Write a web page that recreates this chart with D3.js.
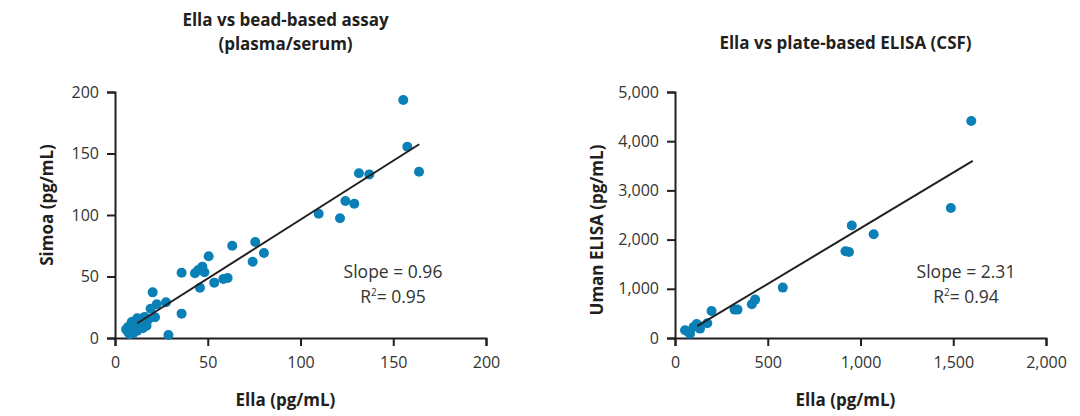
<!DOCTYPE html>
<html>
<head>
<meta charset="utf-8">
<script src="https://cdn.jsdelivr.net/npm/d3@7"></script>
<style>
  body { margin: 0; background: #fff; }
  svg { font-family: "Open Sans", "Noto Sans", sans-serif; }
  .axis path, .axis line { stroke: #231f20; stroke-width: 2; }
  .axis text { font-size: 16px; fill: #333; }
  .title, .axis-label { font-weight: bold; fill: #231f20; font-size: 17px; }
  .stat { font-size: 17.5px; fill: #333; }
</style>
</head>
<body>
<svg width="1080" height="416"></svg>
<script>
// Panel A: Ella vs Simoa (plasma/serum), pg/mL
const ellaPlasma = [155.4, 157.6, 163.9, 131.5, 137.1, 124.2, 129, 109.8, 121.3, 63.2, 75.6, 80.3, 74.2, 50.5,
  35.9, 43.1, 44.9, 47.1, 48.2, 53.5, 58.4, 60.7, 45.8, 20.3, 27.5, 22.5, 19.2, 21.6, 35.9, 28.8,
  7, 7, 8, 9, 10, 11, 12, 13, 14, 15, 16, 17, 18, 12, 10, 15, 9, 13, 16, 6];
const simoaPlasma = [193.5, 155.5, 135.2, 133.9, 133, 111.4, 109.2, 101, 97.3, 75, 78, 69.1, 62, 66.4,
  53.1, 52.6, 55.3, 58, 53.4, 45, 48, 48.8, 40.9, 37.1, 29, 27.4, 23.8, 16.8, 19.8, 2.4,
  5, 9, 3, 7, 11, 14, 16, 9, 12, 16, 13, 10, 15, 6, 4, 8, 13, 14, 17, 7];
const fitAX = [12, 164];
const fitAY = [12, 157.5];

// Panel B: Ella vs Uman ELISA (CSF), pg/mL
const ellaCsf = [1597, 1487, 953, 1071, 919, 938, 581, 414, 432, 321, 337, 197, 174, 117, 100, 135, 72, 81, 54, 128];
const umanCsf = [4411, 2642, 2285, 2108, 1762, 1748, 1024, 685, 780, 577, 577, 549, 300, 285, 224, 191, 122, 89, 157, 250];
const fitBX = [120, 1605];
const fitBY = [241, 3598];

const panels = [
  { left: 115, title: ["Ella vs bead-based assay", "(plasma/serum)"], titleY: 20,
    xs: ellaPlasma, ys: simoaPlasma, fx: fitAX, fy: fitAY,
    xMax: 200, yMax: 200, xTicks: [0, 50, 100, 150, 200], yTicks: [0, 50, 100, 150, 200],
    fmt: d3.format("d"), yLabel: "Simoa (pg/mL)", yLabelX: 47, yLabelY: 205,
    stats: ["Slope = 0.96", "0.95"], statX: 393 },
  { left: 675, title: ["Ella vs plate-based ELISA (CSF)"], titleY: 43,
    xs: ellaCsf, ys: umanCsf, fx: fitBX, fy: fitBY,
    xMax: 2000, yMax: 5000, xTicks: [0, 500, 1000, 1500, 2000], yTicks: [0, 1000, 2000, 3000, 4000, 5000],
    fmt: d3.format(","), yLabel: "Uman ELISA (pg/mL)", yLabelX: 597, yLabelY: 230,
    stats: ["Slope = 2.31", "0.94"], statX: 966 }
];

const svg = d3.select("svg");
const plotTop = 92, plotBottom = 338, plotWidth = 371;

panels.forEach(p => {
  const g = svg.append("g");
  const x = d3.scaleLinear().domain([0, p.xMax]).range([p.left, p.left + plotWidth]);
  const y = d3.scaleLinear().domain([0, p.yMax]).range([plotBottom, plotTop]);
  const cx = p.left + plotWidth / 2 - 15;

  // title
  p.title.forEach((t, i) => {
    g.append("text").attr("class", "title")
      .attr("x", cx).attr("y", p.titleY + i * 24).attr("dy", "0.35em")
      .attr("text-anchor", "middle").text(t);
  });

  // axes
  const xAxis = g.append("g").attr("class", "axis")
    .attr("transform", `translate(0,${plotBottom})`)
    .call(d3.axisBottom(x).tickValues(p.xTicks).tickFormat(p.fmt).tickSizeOuter(0).tickSize(8).tickPadding(11));

  const yAxis = g.append("g").attr("class", "axis")
    .attr("transform", `translate(${p.left},0)`)
    .call(d3.axisLeft(y).tickValues(p.yTicks).tickFormat(p.fmt).tickSizeOuter(0).tickSize(8).tickPadding(8));

  xAxis.attr("font-family", null).attr("font-size", null);
  yAxis.attr("font-family", null).attr("font-size", null);

  // axis labels
  g.append("text").attr("class", "axis-label")
    .attr("x", cx).attr("y", 400).attr("dy", "0.35em")
    .attr("text-anchor", "middle").text("Ella (pg/mL)");
  g.append("text").attr("class", "axis-label")
    .attr("transform", `translate(${p.yLabelX},${p.yLabelY}) rotate(-90)`)
    .attr("dy", "0.35em").attr("text-anchor", "middle").text(p.yLabel);

  // points
  g.selectAll("circle").data(p.xs).join("circle")
    .attr("cx", d => x(d))
    .attr("cy", (d, i) => y(p.ys[i]))
    .attr("r", 5)
    .attr("fill", "#0b80b6");

  // fit line
  g.append("line")
    .attr("x1", x(p.fx[0])).attr("y1", y(p.fy[0]))
    .attr("x2", x(p.fx[1])).attr("y2", y(p.fy[1]))
    .attr("stroke", "#231f20").attr("stroke-width", 2);

  // stats
  g.append("text").attr("class", "stat")
    .attr("x", p.statX).attr("y", 272).attr("dy", "0.35em")
    .attr("text-anchor", "middle").text(p.stats[0]);
  const r2 = g.append("text").attr("class", "stat")
    .attr("x", p.statX).attr("y", 297).attr("dy", "0.35em")
    .attr("text-anchor", "middle");
  r2.append("tspan").text("R");
  r2.append("tspan").attr("baseline-shift", "super").attr("font-size", "10px").text("2");
  r2.append("tspan").text("= " + p.stats[1]);
});
</script>
</body>
</html>
